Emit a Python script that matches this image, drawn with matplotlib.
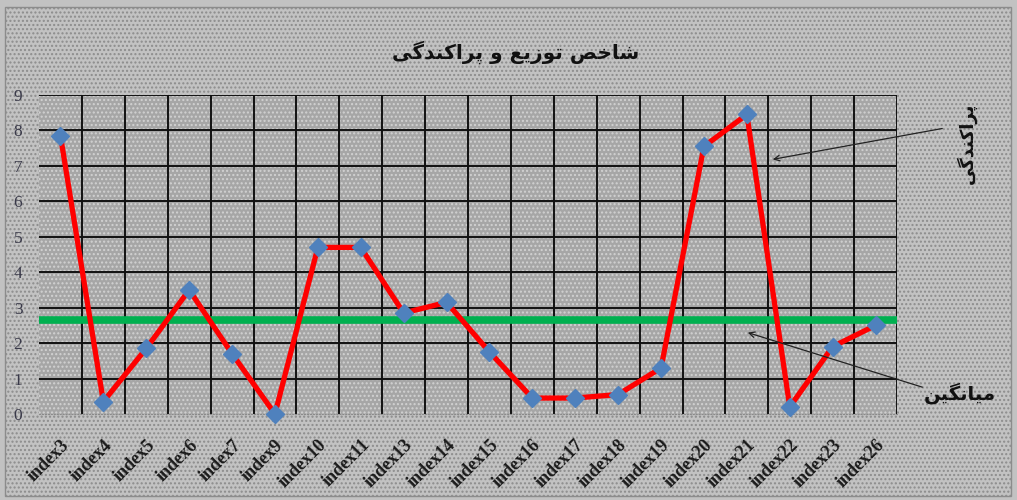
import matplotlib
matplotlib.use("Agg")
import matplotlib.pyplot as plt
from matplotlib.patches import Rectangle

# data
categories = ["index3", "index4", "index5", "index6", "index7", "index9",
              "index10", "index11", "index13", "index14", "index15", "index16",
              "index17", "index18", "index19", "index20", "index21", "index22",
              "index23", "index26"]
values = [7.85, 0.35, 1.85, 3.5, 1.7, 0.0, 4.7, 4.7, 2.85, 3.15, 1.75, 0.45,
          0.45, 0.55, 1.3, 7.55, 8.45, 0.2, 1.9, 2.5]
mean_value = 2.65
y_ticks = list(range(0, 10))


def shaped(forms):
    # matplotlib has no bidi/shaping, so feed presentation forms in visual order
    return "".join(forms)[::-1]


# شاخص توزیع و پراکندگی
title_txt = shaped(["\uFEB7\uFE8E\uFEA7\uFEBA", " ",
                    "\uFE97\uFEEE\uFEAF\uFEF3\uFECA", " ",
                    "\uFEED", " ",
                    "\uFB58\uFEAE\uFE8D\uFB90\uFEE8\uFEAA\uFB94\uFEF0"])
# پراکندگی
spread_txt = shaped(["\uFB58\uFEAE\uFE8D\uFB90\uFEE8\uFEAA\uFB94\uFEF0"])
# میانگین
mean_txt = shaped(["\uFEE3\uFEF4\uFE8E\uFEE7\uFB95\uFEF4\uFEE6"])

W, H = 1017, 500
fig = plt.figure(figsize=(W / 100, H / 100), dpi=100, facecolor="#c2c2c2")

# outer chart frame
fig.patches.append(Rectangle((5 / W, 4 / H), 1006 / W, 489 / H,
                             transform=fig.transFigure, fill=True,
                             facecolor="#c2c2c2", edgecolor="#8c8c8c",
                             hatch="....", lw=1.0, zorder=-1))

ax = fig.add_axes([39 / W, 1 - 414 / H, 858 / W, 319 / H])
ax.set_facecolor("#a6a6a6")
ax.add_patch(Rectangle((0, 0), 1, 1, transform=ax.transAxes, facecolor="none",
                       edgecolor="#d2d2d2", hatch="....", lw=0, zorder=0))

x = list(range(len(categories)))
ax.set_xlim(-0.5, len(categories) - 0.5)
ax.set_ylim(0, 9)

# grid: horizontal at each integer, vertical between categories
for yv in y_ticks[1:]:
    ax.axhline(yv, color="#111111", lw=1.4, zorder=1)
for i in range(1, len(categories) + 1):
    ax.axvline(i - 0.5, color="#111111", lw=1.4, zorder=1)

ax.axhline(mean_value, color="#00b050", lw=5.5, zorder=2)
ax.plot(x, values, color="#ff0000", lw=3.8, zorder=3)
ax.plot(x, values, linestyle="none", marker="D", markersize=9,
        color="#4f81bd", zorder=4, clip_on=False)

for s in ["left", "top", "right"]:
    ax.spines[s].set_visible(False)
ax.spines["bottom"].set_color("#8a8a8a")
ax.spines["bottom"].set_linestyle(":")

ax.set_yticks(y_ticks)
ax.set_yticklabels([str(v) for v in y_ticks], fontfamily="Liberation Serif",
                   fontsize=12.5, color="#3a3a4a")
ax.tick_params(axis="y", length=0, pad=12)
ax.set_xticks(x)
ax.set_xticklabels(categories, rotation=45, ha="right", rotation_mode="anchor",
                   fontfamily="Liberation Serif", fontweight="bold", fontsize=13,
                   color="#1a1a1a")
ax.tick_params(axis="x", length=0, pad=16)

fig.text(0.507, 0.895, title_txt, ha="center", va="center", fontsize=14.5,
         fontweight="bold", family=["DejaVu Sans"], color="#111111")

fig.text(967 / W, 1 - 143 / H, spread_txt, ha="center", va="center",
         rotation=90, fontsize=13, fontweight="bold", family=["DejaVu Sans"],
         color="#111111")
fig.text(960 / W, 1 - 393 / H, mean_txt, ha="center", va="center",
         fontsize=14, fontweight="bold", family=["DejaVu Sans"], color="#111111")

ax.annotate("", xy=(16.54, 7.17), xycoords="data",
            xytext=(945 / W, 1 - 128 / H), textcoords="figure fraction",
            arrowprops=dict(arrowstyle="->", color="#222222", lw=0.9))
ax.annotate("", xy=(15.96, 2.32), xycoords="data",
            xytext=(925 / W, 1 - 388 / H), textcoords="figure fraction",
            arrowprops=dict(arrowstyle="->", color="#222222", lw=0.9))

fig.savefig("out.png", dpi=100, facecolor=fig.get_facecolor())
